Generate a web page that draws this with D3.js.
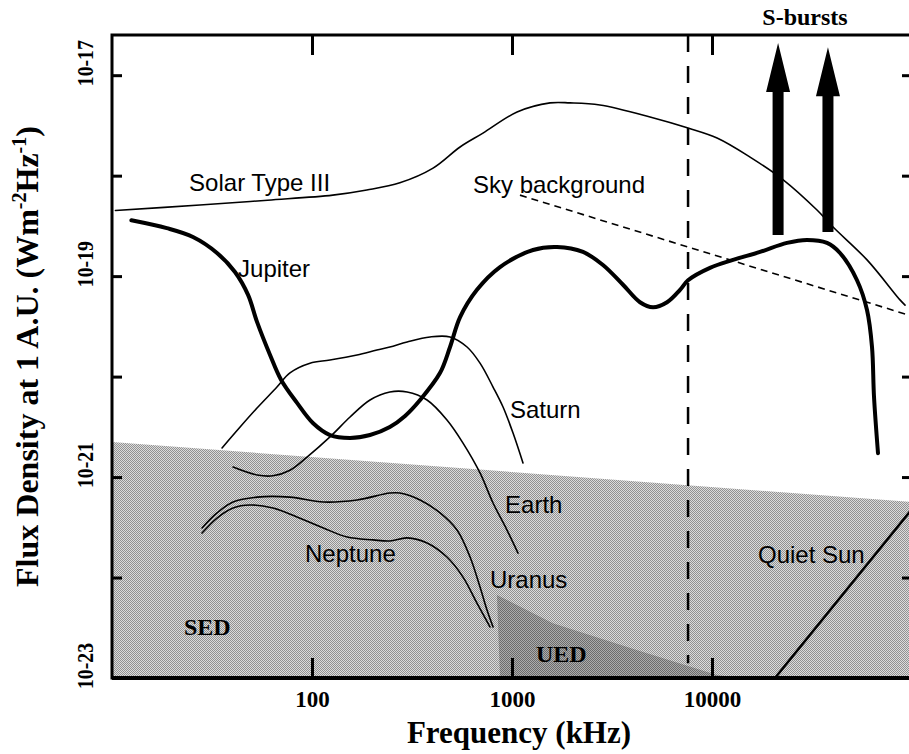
<!DOCTYPE html>
<html>
<head>
<meta charset="utf-8">
<title>Radio flux density at 1 AU</title>
<script src="https://cdn.jsdelivr.net/npm/d3@7"></script>
<style>
  html, body { margin: 0; padding: 0; background: #fff; overflow: hidden; }
  svg { display: block; }
  .lbl { font-family: 'Liberation Sans', Arial, Helvetica, sans-serif; font-size: 24px; fill: #000; }
  .serif { font-family: 'Liberation Serif', 'Times New Roman', serif; font-weight: bold; fill: #000; }
</style>
</head>
<body>
<div id="chart"></div>
<script>
/* Radio spectra seen at 1 A.U.: planetary emissions vs. solar bursts and
   galactic background. Frequency in kHz, flux density in W m^-2 Hz^-1. */

var xTicks = [100, 1000, 10000];
var yTicks = [1e-17, 1e-18, 1e-19, 1e-20, 1e-21, 1e-22, 1e-23];
var yLabelTicks = [1e-17, 1e-19, 1e-21, 1e-23];

var solarTypeIII = [[10.4, 4.5e-19], [27.5, 5.1e-19], [60, 5.7e-19], [127, 6.4e-19], [188, 7.2e-19],
  [275, 8.5e-19], [403, 1.19e-18], [550, 1.93e-18], [716, 2.65e-18], [1060, 4.3e-18],
  [1550, 5.3e-18], [1950, 5.3e-18], [2750, 5.05e-18], [4900, 3.84e-18], [7590, 2.98e-18],
  [10600, 2.37e-18], [15500, 1.53e-18], [22700, 9.1e-19], [33500, 4.55e-19], [40300, 3.08e-19],
  [59600, 1.45e-19], [87100, 5.8e-20], [92300, 5.15e-20]];

var jupiter = [[12.5, 3.6e-19], [18.8, 3.0e-19], [25.4, 2.45e-19], [33.5, 1.7e-19], [41.2, 1.1e-19],
  [47.9, 6.5e-20], [53.1, 3.5e-20], [61.7, 1.64e-20], [70, 9.3e-21], [84, 5.5e-21],
  [101, 3.45e-21], [123, 2.62e-21], [155, 2.45e-21], [195, 2.62e-21], [245, 3.15e-21],
  [292, 4.06e-21], [347, 5.85e-21], [437, 1.09e-20], [490, 1.97e-20], [550, 3.9e-20],
  [668, 7.3e-20], [871, 1.23e-19], [1274, 1.82e-19], [1680, 1.95e-19], [2265, 1.74e-19],
  [2850, 1.29e-19], [3590, 8.2e-20], [4365, 5.5e-20], [5070, 4.9e-20], [5960, 5.5e-20],
  [6920, 7.3e-20], [7590, 9.1e-20], [9770, 1.21e-19], [12740, 1.45e-19], [17380, 1.74e-19],
  [23710, 2.14e-19], [29850, 2.29e-19], [37580, 2.14e-19], [43650, 1.7e-19], [53090, 9.1e-20],
  [59570, 4.6e-20], [63100, 1.97e-20], [64570, 6.3e-21], [67610, 1.73e-21]];

var saturn = [[35.5, 1.95e-21], [43.7, 3.15e-21], [53.1, 4.86e-21], [66.8, 7.87e-21], [77.6, 1.09e-20],
  [97.7, 1.36e-20], [123, 1.46e-20], [168, 1.64e-20], [211, 1.84e-20], [245, 1.97e-20],
  [299, 2.21e-20], [389, 2.48e-20], [490, 2.48e-20], [596, 1.97e-20], [692, 1.36e-20],
  [804, 7.87e-21], [902, 4.98e-21], [1012, 2.74e-21], [1135, 1.38e-21]];

var earth = [[40.3, 1.26e-21], [53.1, 1.05e-21], [63.8, 1.03e-21], [77.6, 1.17e-21], [94.4, 1.58e-21],
  [123, 2.51e-21], [155, 3.96e-21], [195, 5.85e-21], [245, 7.03e-21], [299, 7.03e-21],
  [376, 5.85e-21], [473, 3.7e-21], [569, 2.18e-21], [692, 1.1e-21], [804, 5.52e-22],
  [944, 2.97e-22], [1072, 1.75e-22]];

var uranus = [[28.2, 3.11e-22], [33.5, 4.39e-22], [40.3, 5.65e-22], [53.1, 6.32e-22], [77.6, 6.32e-22],
  [114, 5.65e-22], [168, 5.92e-22], [245, 6.93e-22], [275, 6.93e-22], [347, 5.92e-22],
  [437, 4.39e-22], [531, 2.97e-22], [617, 1.6e-22], [692, 8.05e-23], [750, 4.75e-23], [804, 3.22e-23]];

var neptune = [[28.2, 2.77e-22], [33.5, 3.91e-22], [40.3, 4.92e-22], [49, 5.27e-22], [63.8, 4.92e-22],
  [84.1, 4.0e-22], [114, 3.11e-22], [150, 2.53e-22], [202, 2.37e-22], [245, 2.31e-22],
  [299, 2.48e-22], [376, 2.21e-22], [473, 1.6e-22], [569, 1.01e-22], [668, 5.57e-23], [776, 3.22e-23]];

var skyBackground = [[1096, 6.4e-19], [100000, 4.0e-20]];
var quietSun = [[20650, 1e-23], [100000, 4.8e-22]];
var sedTop = [[10, 2.23e-21], [100000, 5.65e-22]];
var uedOutline = [[871, 1e-23], [841, 6.7e-23], [1600, 3.5e-23], [4200, 1.9e-23], [10600, 1.07e-23], [13800, 1e-23]];
var cutoffFreq = 7590;

/* S-burst arrows: frequency, base flux, tip flux */
var sBursts = [[21400, 2.56e-19, 2.09e-17], [38000, 2.75e-19, 1.9e-17]];

/* curve labels: text, frequency, flux of text baseline start */
var curveLabels = [
  ['Solar Type III', 24.3, 7.0e-19],
  ['Jupiter', 42.7, 9.8e-20],
  ['Sky background', 638, 6.7e-19],
  ['Saturn', 977, 3.87e-21],
  ['Earth', 923, 4.39e-22],
  ['Uranus', 776, 7.87e-23],
  ['Neptune', 92.3, 1.43e-22],
  ['Quiet Sun', 16980, 1.4e-22]
];
var regionLabels = [['SED', 22.9, 2.68e-23], ['UED', 1318, 1.44e-23]];

(function () {
  'use strict';

  var W = 909, H = 754;
  var box = { left: 112, right: 912, top: 35, bottom: 678 };

  var svg = d3.select('#chart').append('svg').attr('width', W).attr('height', H);

  var x = d3.scaleLog().domain([10, 1e5]).range([box.left, box.right]);
  var y = d3.scaleLog().domain([1e-23, Math.pow(10, -16.6)]).range([box.bottom, box.top]);

  /* halftone-like fills */
  var defs = svg.append('defs');
  function checker(id, dark, light) {
    var p = defs.append('pattern').attr('id', id)
      .attr('width', 2).attr('height', 2).attr('patternUnits', 'userSpaceOnUse');
    p.append('rect').attr('width', 2).attr('height', 2).attr('fill', light);
    p.append('rect').attr('width', 1).attr('height', 1).attr('fill', dark);
    p.append('rect').attr('x', 1).attr('y', 1).attr('width', 1).attr('height', 1).attr('fill', dark);
  }
  checker('sed', '#929292', '#dcdcdc');
  checker('ued', '#6c6c6c', '#acacac');

  defs.append('clipPath').attr('id', 'plotclip').append('rect')
    .attr('x', box.left).attr('y', box.top)
    .attr('width', box.right - box.left).attr('height', box.bottom - box.top);

  var plot = svg.append('g').attr('clip-path', 'url(#plotclip)');

  /* SED region */
  plot.append('path').datum(sedTop)
    .attr('d', d3.area().x(function (d) { return x(d[0]); })
      .y0(y(1e-23)).y1(function (d) { return y(d[1]); }))
    .attr('fill', 'url(#sed)');

  /* UED region */
  plot.append('path').datum(uedOutline)
    .attr('d', d3.line().x(function (d) { return x(d[0]); }).y(function (d) { return y(d[1]); })
      .curve(d3.curveLinearClosed))
    .attr('fill', 'url(#ued)');

  var smooth = d3.line()
    .x(function (d) { return x(d[0]); })
    .y(function (d) { return y(d[1]); })
    .curve(d3.curveCatmullRom.alpha(0.5));
  var straight = d3.line()
    .x(function (d) { return x(d[0]); })
    .y(function (d) { return y(d[1]); });

  function curve(data, width, gen, dash) {
    var p = plot.append('path').datum(data).attr('d', gen)
      .attr('fill', 'none').attr('stroke', '#000').attr('stroke-width', width)
      .attr('stroke-linecap', 'round').attr('stroke-linejoin', 'round');
    if (dash) p.attr('stroke-dasharray', dash).attr('stroke-linecap', 'butt');
    return p;
  }

  /* cutoff dashed line */
  plot.append('line')
    .attr('x1', x(cutoffFreq)).attr('x2', x(cutoffFreq))
    .attr('y1', box.top).attr('y2', y(1.4e-23))
    .attr('stroke', '#000').attr('stroke-width', 2.5).attr('stroke-dasharray', '17,14');

  curve(skyBackground, 1.6, straight, '7,5');
  curve(quietSun, 2.5, straight);
  curve(solarTypeIII, 1.6, smooth);
  curve(saturn, 1.6, smooth);
  curve(earth, 1.6, smooth);
  curve(uranus, 1.6, smooth);
  curve(neptune, 1.6, smooth);
  curve(jupiter, 4, smooth);

  /* S-burst arrows */
  var headLen = 49, headHalf = 12, shaftHalf = 5.5;
  svg.selectAll('path.arrow').data(sBursts).enter().append('path')
    .attr('class', 'arrow')
    .attr('d', function (d) {
      var cx = x(d[0]), yb = y(d[1]), yt = y(d[2]), yh = yt + headLen;
      return 'M' + (cx - shaftHalf) + ',' + yb + 'L' + (cx - shaftHalf) + ',' + yh +
        'L' + (cx - headHalf) + ',' + yh + 'L' + cx + ',' + yt + 'L' + (cx + headHalf) + ',' + yh +
        'L' + (cx + shaftHalf) + ',' + yh + 'L' + (cx + shaftHalf) + ',' + yb + 'Z';
    })
    .attr('fill', '#000');

  svg.append('text').attr('class', 'serif')
    .attr('x', (x(sBursts[0][0]) + x(sBursts[1][0])) / 2 + 2).attr('y', 25)
    .attr('text-anchor', 'middle').style('font-size', '24px')
    .text('S-bursts');

  /* frame */
  svg.append('rect')
    .attr('x', box.left).attr('y', box.top)
    .attr('width', box.right - box.left).attr('height', box.bottom - box.top)
    .attr('fill', 'none').attr('stroke', '#000').attr('stroke-width', 3);
  svg.append('line').attr('x1', box.left).attr('x2', box.right)
    .attr('y1', box.bottom).attr('y2', box.bottom)
    .attr('stroke', '#000').attr('stroke-width', 4);

  /* axes: inward ticks */
  function styleAxis(g) {
    g.attr('font-family', null).attr('font-size', null);
    g.select('.domain').remove();
    g.selectAll('.tick line').attr('stroke', '#000').attr('stroke-width', 3);
  }
  var gB = svg.append('g').attr('transform', 'translate(0,' + box.bottom + ')')
    .call(d3.axisBottom(x).tickValues(xTicks).tickFormat(d3.format('d'))
      .tickSizeInner(-20).tickSizeOuter(0).tickPadding(13));
  styleAxis(gB);
  gB.selectAll('.tick text').attr('class', 'serif').style('font-size', '23px');

  var gT = svg.append('g').attr('transform', 'translate(0,' + box.top + ')')
    .call(d3.axisTop(x).tickValues(xTicks).tickFormat('').tickSizeInner(-20).tickSizeOuter(0));
  styleAxis(gT);

  var gL = svg.append('g').attr('transform', 'translate(' + box.left + ',0)')
    .call(d3.axisLeft(y).tickValues(yTicks).tickFormat('').tickSizeInner(-10).tickSizeOuter(0));
  styleAxis(gL);

  var gR = svg.append('g').attr('transform', 'translate(' + box.right + ',0)')
    .call(d3.axisRight(y).tickValues(yTicks).tickFormat('').tickSizeInner(-10).tickSizeOuter(0));
  styleAxis(gR);

  /* y tick labels, rotated, exponent written inline */
  svg.selectAll('text.ylab').data(yLabelTicks).enter().append('text')
    .attr('class', 'serif ylab')
    .attr('transform', function (d) { return 'translate(93,' + (y(d) + 11) + ') rotate(-90)'; })
    .attr('textLength', 46).attr('lengthAdjust', 'spacingAndGlyphs')
    .style('font-size', '23px')
    .text(function (d) { return '10' + Math.round(Math.log10(d)); });

  /* axis titles */
  svg.append('text').attr('class', 'serif')
    .attr('x', 519).attr('y', 743).attr('text-anchor', 'middle')
    .style('font-size', '31px').text('Frequency (kHz)');

  var yt = svg.append('text').attr('class', 'serif')
    .attr('transform', 'translate(38,' + ((box.top + box.bottom) / 2) + ') rotate(-90)')
    .attr('text-anchor', 'middle').style('font-size', '32px');
  yt.append('tspan').text('Flux Density at 1 A.U. (Wm');
  yt.append('tspan').attr('dy', -12).style('font-size', '20px').text('-2');
  yt.append('tspan').attr('dy', 12).text('Hz');
  yt.append('tspan').attr('dy', -12).style('font-size', '20px').text('-1');
  yt.append('tspan').attr('dy', 12).text(')');

  /* curve and region labels */
  svg.selectAll('text.curve-lbl').data(curveLabels).enter().append('text')
    .attr('class', 'lbl curve-lbl')
    .attr('x', function (d) { return x(d[1]); })
    .attr('y', function (d) { return y(d[2]); })
    .text(function (d) { return d[0]; });

  svg.selectAll('text.region-lbl').data(regionLabels).enter().append('text')
    .attr('class', 'serif region-lbl')
    .attr('x', function (d) { return x(d[1]); })
    .attr('y', function (d) { return y(d[2]); })
    .style('font-size', '24px')
    .text(function (d) { return d[0]; });
})();
</script>
</body>
</html>
